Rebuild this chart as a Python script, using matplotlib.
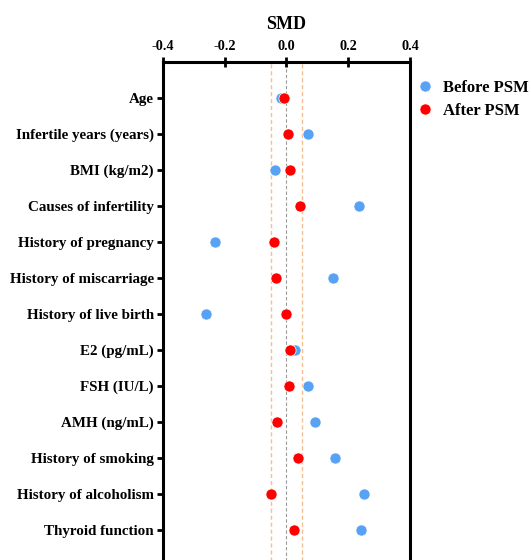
import matplotlib
matplotlib.use("Agg")
import matplotlib.pyplot as plt

categories = ["Age", "Infertile years (years)", "BMI (kg/m2)", "Causes of infertility",
              "History of pregnancy", "History of miscarriage", "History of live birth",
              "E2 (pg/mL)", "FSH (IU/L)", "AMH (ng/mL)", "History of smoking",
              "History of alcoholism", "Thyroid function"]
before_psm = [-0.016, 0.071, -0.037, 0.236, -0.230, 0.151, -0.259, 0.029, 0.069, 0.094, 0.157, 0.252, 0.242]
after_psm = [-0.006, 0.006, 0.011, 0.043, -0.040, -0.032, -0.001, 0.013, 0.010, -0.030, 0.038, -0.050, 0.024]
x_ticks = [-0.4, -0.2, 0.0, 0.2, 0.4]
threshold = 0.05

plt.rcParams['font.family'] = ['Liberation Serif', 'DejaVu Serif']
plt.rcParams['font.weight'] = 'bold'

fig = plt.figure(figsize=(5.31, 5.6), dpi=100)
ax = fig.add_axes([0.3064, -0.0232, 0.4657, 0.9125])

ypos = list(range(len(categories)))
ax.axvline(0, color='#999999', linestyle=(0, (3, 2)), linewidth=0.8, zorder=1)
ax.axvline(-threshold, color='#F7BE8E', linestyle=(0, (3, 2)), linewidth=1.0, zorder=1)
ax.axvline(threshold, color='#F7BE8E', linestyle=(0, (3, 2)), linewidth=1.0, zorder=1)

ax.plot(before_psm, ypos, 'o', color='#58A2F5', markersize=8.0, markeredgecolor='white',
        markeredgewidth=0.5, label='Before PSM', zorder=3, clip_on=False)
ax.plot(after_psm, ypos, 'o', color='#FF0000', markersize=8.0, markeredgecolor='white',
        markeredgewidth=0.5, label='After PSM', zorder=4, clip_on=False)

ax.set_xlim(-0.4, 0.4)
ax.set_ylim(13.2, -1)
ax.set_yticks(ypos)
ax.set_yticklabels(categories, fontsize=10.8, fontweight='bold')
ax.set_xticks(x_ticks)
ax.set_xticklabels([f"{v:.1f}" for v in x_ticks], fontsize=10.3, fontweight='bold')
ax.xaxis.set_ticks_position('top')
ax.xaxis.set_label_position('top')
ax.set_xlabel('SMD', fontsize=13, fontweight='bold', labelpad=8)

for s in ax.spines.values():
    s.set_linewidth(2.2)
ax.tick_params(axis='x', direction='inout', length=7.2, width=2, pad=3)
ax.tick_params(axis='y', direction='out', length=4.3, width=2, pad=2)

leg = fig.legend(*ax.get_legend_handles_labels(), loc='upper left',
                 bbox_to_anchor=(410 / 531, 1 - 73.5 / 560), bbox_transform=fig.transFigure,
                 frameon=False, prop={'size': 12, 'weight': 'bold'}, handletextpad=0.6,
                 borderaxespad=0, labelspacing=0.43, handlelength=1.0)

fig.savefig('out.png', dpi=100)
